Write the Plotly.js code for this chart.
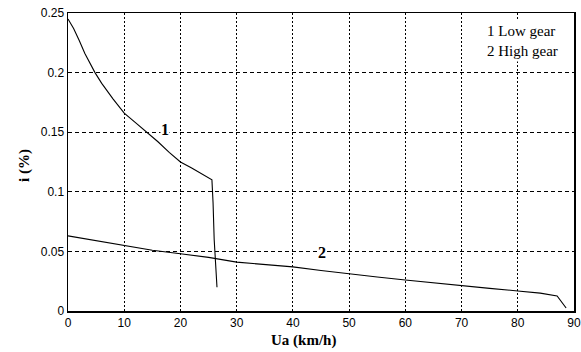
<!DOCTYPE html>
<html>
<head>
<meta charset="utf-8">
<script src="https://cdn.plot.ly/plotly-3.0.1.min.js"></script>
<style>html,body{margin:0;padding:0;background:#fff;}#chart{width:581px;height:352px;}</style>
</head>
<body>
<div id="chart"></div>
<script>
// Curve 1: Low gear
var lowX = [0, 1, 2, 3, 4.8, 6, 8, 10, 12, 14, 16, 18, 20, 22, 23.5, 25.6, 25.8, 26.0, 26.5];
var lowY = [0.245, 0.237, 0.227, 0.216, 0.2, 0.191, 0.178, 0.166, 0.158, 0.15, 0.142, 0.133, 0.125, 0.12, 0.116, 0.110, 0.091, 0.06, 0.02];
// Curve 2: High gear
var highX = [0, 5, 10, 15, 20, 25, 30, 35, 40, 45, 50, 55, 60, 65, 70, 75, 80, 84, 87, 88.6];
var highY = [0.063, 0.059, 0.0545, 0.051, 0.048, 0.045, 0.041, 0.039, 0.037, 0.034, 0.031, 0.0285, 0.026, 0.0235, 0.021, 0.019, 0.0168, 0.015, 0.0126, 0.0025];
var xTicks = [0, 10, 20, 30, 40, 50, 60, 70, 80, 90];
var yTicks = [0, 0.05, 0.1, 0.15, 0.2, 0.25];
var yTickText = ['0', '0.05', '0.1', '0.15', '0.2', '0.25'];
var curveLabels = ['1', '2'];
var labelX = [17.3, 45.2];
var labelY = [0.152, 0.049];
var legendLines = ['1 Low gear', '2 High gear'];
var xTitle = 'Ua (km/h)';
var yTitle = 'i (%)';

var SERIF = 'Liberation Serif';
var SANS = 'Liberation Sans';

var traces = [
  {x: lowX, y: lowY, mode: 'lines', line: {color: '#000', width: 1.1}, hoverinfo: 'skip'},
  {x: highX, y: highY, mode: 'lines', line: {color: '#000', width: 1.1}, hoverinfo: 'skip'}
];

var annotations = curveLabels.map(function (t, i) {
  return {x: labelX[i], y: labelY[i], xref: 'x', yref: 'y', text: '<b>' + t + '</b>', showarrow: false,
    font: {family: SERIF, size: 16, color: '#000'}, bgcolor: '#fff', borderpad: 0};
});
annotations.push({
  x: 0.975, y: 0.975, xref: 'paper', yref: 'paper', xanchor: 'right', yanchor: 'top',
  text: legendLines.join('<br>'), showarrow: false, align: 'left',
  font: {family: SERIF, size: 15, color: '#000'}, bgcolor: '#fff', borderpad: 2
});
// axis titles as annotations (serif)
annotations.push({
  x: 0.466, y: -0.065, xref: 'paper', yref: 'paper', xanchor: 'center', yanchor: 'top',
  text: '<b>' + xTitle + '</b>', showarrow: false,
  font: {family: SERIF, size: 15, color: '#000'}
});
annotations.push({
  x: -0.085, y: 0.49, xref: 'paper', yref: 'paper', xanchor: 'center', yanchor: 'middle',
  text: '<b>' + yTitle + '</b>', showarrow: false, textangle: -90,
  font: {family: SERIF, size: 15, color: '#000'}
});

var layout = {
  width: 581, height: 352,
  margin: {l: 68, r: 7, t: 13, b: 41},
  paper_bgcolor: '#fff', plot_bgcolor: '#fff',
  font: {family: SERIF, color: '#000'},
  showlegend: false,
  xaxis: {
    range: [0, 90], tickvals: xTicks, ticktext: xTicks.map(String),
    showgrid: true, gridcolor: '#000', gridwidth: 1, griddash: '2px,2px',
    zeroline: false, showline: true, linecolor: '#000', linewidth: 1.5, mirror: true,
    ticks: '', tickfont: {family: SANS, size: 12, color: '#000'}
  },
  yaxis: {
    range: [0, 0.25], tickvals: yTicks, ticktext: yTickText,
    showgrid: true, gridcolor: '#000', gridwidth: 1, griddash: '4px,3px',
    zeroline: false, showline: true, linecolor: '#000', linewidth: 1.5, mirror: true,
    ticks: '', tickfont: {family: SANS, size: 12, color: '#000'}
  },
  annotations: annotations
};

Plotly.newPlot('chart', traces, layout, {displayModeBar: false, staticPlot: true});
</script>
</body>
</html>
